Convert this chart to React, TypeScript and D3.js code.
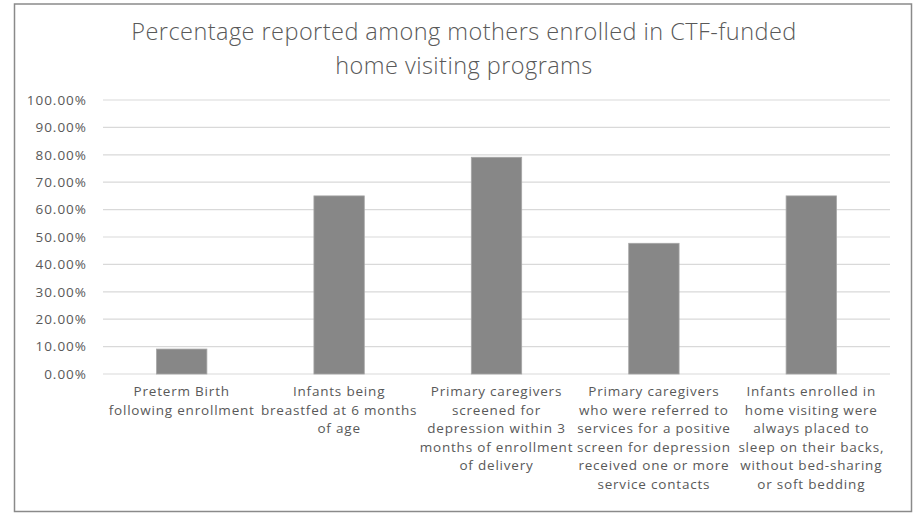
import React from "react";
import * as d3 from "d3";

const titleLines = ["Percentage reported among mothers enrolled in CTF-funded", "home visiting programs"];
const categories = [
  ["Preterm Birth", "following enrollment"],
  ["Infants being", "breastfed at 6 months", "of age"],
  ["Primary caregivers", "screened for", "depression within 3", "months of enrollment", "of delivery"],
  ["Primary caregivers", "who were referred to", "services for a positive", "screen for depression", "received one or more", "service contacts"],
  ["Infants enrolled in", "home visiting were", "always placed to", "sleep on their backs,", "without bed-sharing", "or soft bedding"],
];
const values = [0.091, 0.65, 0.791, 0.477, 0.65];
const yTicks = [0, 0.1, 0.2, 0.3, 0.4, 0.5, 0.6, 0.7, 0.8, 0.9, 1.0];

const W = 919;
const H = 513;
const plot = { left: 103, right: 890, top: 100, bottom: 374 };
const font = "'Open Sans', Lato, sans-serif";
const textColor = "#595959";

export default function App() {
  const x = d3
    .scaleBand<number>()
    .domain(values.map((_, i) => i))
    .range([plot.left, plot.right])
    .paddingInner(0.68)
    .paddingOuter(0.34);
  const y = d3.scaleLinear().domain([0, 1]).range([plot.bottom, plot.top]);
  const fmt = d3.format(".2%");

  return (
    <svg
      width={W}
      height={H}
      style={{ position: "absolute", left: 0, top: 0, background: "#fff" }}
      fontFamily={font}
    >
      <rect x={0} y={0} width={W} height={H} fill="#fff" />
      <rect x={14.5} y={4} width={897} height={507.5} fill="#fff" stroke="#8a8a8a" strokeWidth={1.5} />
      {titleLines.map((t, i) => (
        <text
          key={i}
          x={464}
          y={40 + i * 34}
          textAnchor="middle"
          fontSize={23.5}
          fontWeight={300}
          letterSpacing={0.45}
          fill={textColor}
        >
          {t}
        </text>
      ))}
      {yTicks.map((t) => (
        <g key={t}>
          <line x1={plot.left} x2={plot.right} y1={y(t)} y2={y(t)} stroke="#d9d9d9" strokeWidth={1.2} />
          <text x={87} y={y(t)} dy="0.36em" textAnchor="end" fontSize={13.5} letterSpacing={1} fill={textColor}>
            {fmt(t)}
          </text>
        </g>
      ))}
      {values.map((v, i) => (
        <rect
          key={i}
          x={x(i)}
          y={y(v)}
          width={x.bandwidth()}
          height={y(0) - y(v)}
          fill="#878787"
          stroke="#a6a6a6"
          strokeWidth={0.8}
        />
      ))}
      {categories.map((lines, i) => {
        const cx = (x(i) as number) + x.bandwidth() / 2;
        return (
          <text key={i} textAnchor="middle" fontSize={13.5} letterSpacing={0.8} fill={textColor}>
            {lines.map((l, j) => (
              <tspan key={j} x={cx} y={396 + j * 18.6}>
                {l}
              </tspan>
            ))}
          </text>
        );
      })}
    </svg>
  );
}
